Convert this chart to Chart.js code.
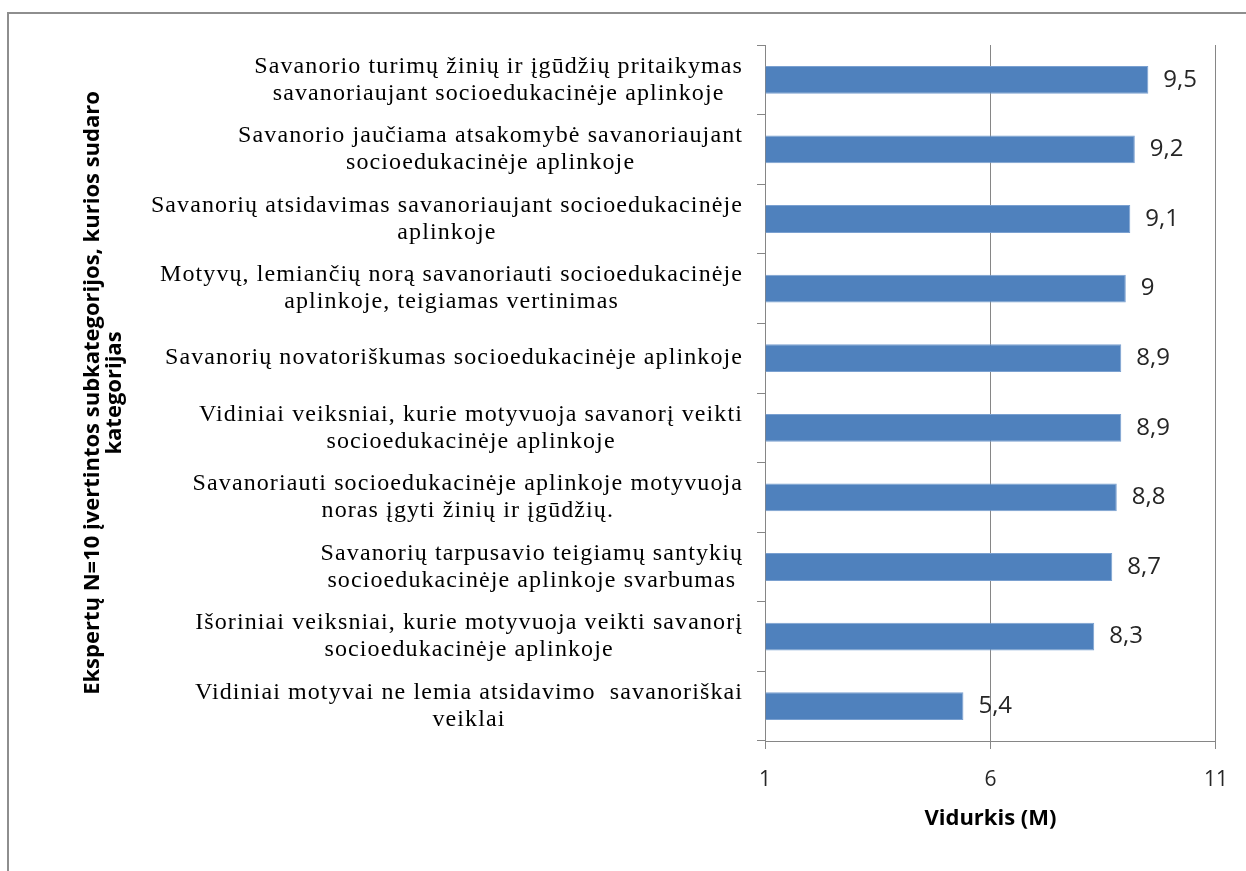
<!DOCTYPE html>
<html>
<head>
<meta charset="utf-8">
<script src="https://cdn.jsdelivr.net/npm/chart.js@4/dist/chart.umd.min.js"></script>
<style>
  html, body { margin: 0; padding: 0; background: #fff; overflow: hidden; }
  #wrap { position: relative; width: 1246px; height: 871px; }
  #frame { position: absolute; left: 7px; top: 12px; width: 1300px; height: 900px;
           border: 2px solid #8e8e8e; box-sizing: border-box; pointer-events: none; }
  canvas { position: absolute; left: 0; top: 0; }
</style>
</head>
<body>
<div id="wrap">
  <canvas id="chart" width="1246" height="871"></canvas>
  <div id="frame"></div>
</div>
<script>
// subkategorijos (eilutės suskaidytos kaip originale)
const categories = [
  ['Savanorio turimų žinių ir įgūdžių pritaikymas', 'savanoriaujant socioedukacinėje aplinkoje'],
  ['Savanorio jaučiama atsakomybė savanoriaujant', 'socioedukacinėje aplinkoje'],
  ['Savanorių atsidavimas savanoriaujant socioedukacinėje', 'aplinkoje'],
  ['Motyvų, lemiančių norą savanoriauti socioedukacinėje', 'aplinkoje, teigiamas vertinimas'],
  ['Savanorių novatoriškumas socioedukacinėje aplinkoje'],
  ['Vidiniai veiksniai, kurie motyvuoja savanorį veikti', 'socioedukacinėje aplinkoje'],
  ['Savanoriauti socioedukacinėje aplinkoje motyvuoja', 'noras įgyti žinių ir įgūdžių.'],
  ['Savanorių tarpusavio teigiamų santykių', 'socioedukacinėje aplinkoje svarbumas'],
  ['Išoriniai veiksniai, kurie motyvuoja veikti savanorį', 'socioedukacinėje aplinkoje'],
  ['Vidiniai motyvai ne lemia atsidavimo  savanoriškai', 'veiklai']
];
const values = [9.5, 9.2, 9.1, 9, 8.9, 8.9, 8.8, 8.7, 8.3, 5.4];
const xTickValues = [1, 6, 11];
const yTitle = ['Ekspertų N=10 įvertintos subkategorijos, kurios sudaro', 'kategorijas'];
const xTitle = 'Vidurkis (M)';

const gridGrey = '#868686';

// category labels: each block right-aligned, lines centered inside block
const categoryLabels = {
  id: 'categoryLabels',
  afterDraw(chart) {
    const ctx = chart.ctx;
    const y = chart.scales.y;
    ctx.save();
    ctx.font = '24px "Liberation Serif", "Times New Roman", serif';
    ctx.letterSpacing = '1.1px';
    ctx.fillStyle = '#000';
    ctx.textAlign = 'center';
    ctx.textBaseline = 'middle';
    const right = chart.chartArea.left - 22;
    const lh = 27;
    categories.forEach((lines, i) => {
      const yc = y.getPixelForValue(i);
      const w = Math.max(...lines.map(l => ctx.measureText(l).width));
      const cx = right - w / 2;
      const y0 = yc - (lines.length - 1) * lh / 2;
      lines.forEach((l, k) => ctx.fillText(l, cx, y0 + k * lh));
    });
    ctx.restore();
  }
};

// value labels at the end of bars, with a decimal comma
const valueLabels = {
  id: 'valueLabels',
  afterDatasetsDraw(chart) {
    const ctx = chart.ctx;
    const meta = chart.getDatasetMeta(0);
    ctx.save();
    ctx.font = '24px "Open Sans", sans-serif';
    ctx.fillStyle = '#262626';
    ctx.textAlign = 'left';
    ctx.textBaseline = 'middle';
    meta.data.forEach((bar, i) => {
      ctx.fillText(String(values[i]).replace('.', ','), bar.x + 15, bar.y);
    });
    ctx.restore();
  }
};

new Chart(document.getElementById('chart'), {
  type: 'bar',
  data: {
    labels: categories,
    datasets: [{
      data: values,
      base: 1,
      backgroundColor: '#4f81bd',
      borderColor: '#7aa0d0',
      borderWidth: 1,
      barPercentage: 0.4,
      categoryPercentage: 1
    }]
  },
  options: {
    indexAxis: 'y',
    responsive: false,
    animation: false,
    layout: { padding: { top: 45, right: 30, left: 0, bottom: 0 } },
    plugins: { legend: { display: false }, tooltip: { enabled: false } },
    scales: {
      y: {
        afterFit: s => { s.width = 765; },
        ticks: { display: false },
        grid: { drawOnChartArea: false, color: gridGrey, tickLength: 8 },
        border: { color: gridGrey },
        title: {
          display: true,
          text: yTitle,
          color: '#000',
          font: { family: '"Open Sans", sans-serif', size: 22, weight: 'bold', lineHeight: '22px' },
          padding: { top: 82, bottom: 0 }
        }
      },
      x: {
        min: 1,
        max: 11,
        afterFit: s => { s.height = 130; },
        afterBuildTicks: s => { s.ticks = xTickValues.map(v => ({ value: v })); },
        ticks: {
          color: '#262626',
          padding: 18,
          font: { family: '"Open Sans", sans-serif', size: 21 }
        },
        grid: { color: gridGrey, tickLength: 8 },
        border: { color: gridGrey },
        title: {
          display: true,
          text: xTitle,
          color: '#000',
          font: { family: '"Open Sans", sans-serif', size: 22, weight: 'bold' },
          padding: { top: 0, bottom: 39 }
        }
      }
    }
  },
  plugins: [categoryLabels, valueLabels]
});
</script>
</body>
</html>
